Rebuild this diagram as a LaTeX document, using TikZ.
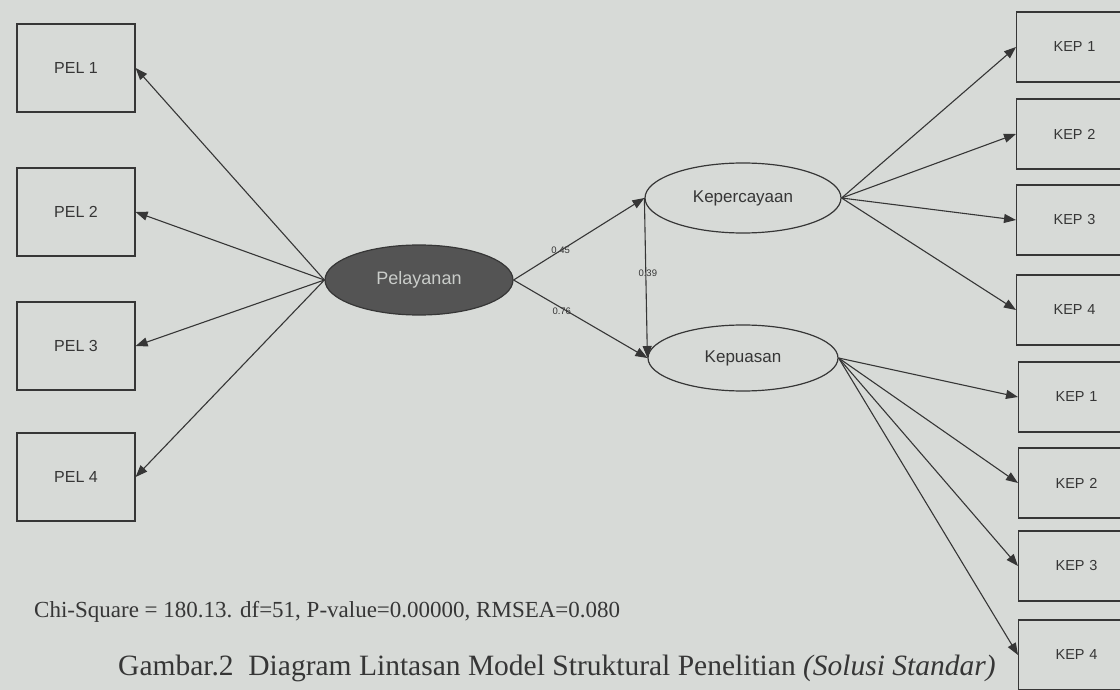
\documentclass[tikz,border=0pt]{standalone}
\usepackage{fontspec}
\setmainfont{Liberation Serif}
\setsansfont{Liberation Sans}
\usetikzlibrary{arrows.meta,shapes.geometric}

\definecolor{paper}{HTML}{D7DAD7}
\definecolor{inkline}{HTML}{363636}
\definecolor{latentfill}{HTML}{545454}

\tikzset{
  obsbox/.style={draw=inkline, line width=1.2pt, minimum width=118pt, minimum height=88pt,
    inner sep=0pt, font=\sffamily\fontsize{16}{18}\selectfont, text=inkline},
  kepbox/.style={draw=inkline, line width=1.2pt, minimum height=70pt,
    inner sep=0pt, font=\sffamily\fontsize{14.5}{16}\selectfont, text=inkline,
    text width=150pt, align=left},
  latent/.style={ellipse, draw=inkline, line width=1.2pt, inner sep=0pt,
    font=\sffamily\fontsize{17}{19}\selectfont, text=inkline},
  coef/.style={font=\sffamily\fontsize{9.5}{10}\selectfont, text=inkline, inner sep=1pt},
  semarrow/.style={draw=inkline, line width=1.1pt, -{Triangle[length=12pt,width=9pt]}}
}

\begin{document}
\begin{tikzpicture}[x=1pt, y=-1pt]
  % page frame
  \fill[paper] (0,0) rectangle (1120,690);
  \useasboundingbox (0,0) rectangle (1120,690);
  \clip (0,0) rectangle (1120,690);

  % exogenous latent
  \node[latent, fill=latentfill, minimum width=188pt, minimum height=70pt, text=paper!85!gray,
    font=\sffamily\fontsize{18}{20}\selectfont] (pelayanan) at (419,280) {Pelayanan};

  % endogenous latents
  \node[latent, minimum width=196pt, minimum height=70pt] (kepercayaan) at (743,198) {Kepercayaan};
  \node[latent, minimum width=190pt, minimum height=66pt] (kepuasan) at (743,358) {Kepuasan};

  % indicators of Pelayanan
  \node[obsbox] (pel1) at (76,68) {PEL 1};
  \node[obsbox] (pel2) at (76,212) {PEL 2};
  \node[obsbox] (pel3) at (76,346) {PEL 3};
  \node[obsbox] (pel4) at (76,477) {PEL 4};

  % indicators of Kepercayaan and Kepuasan
  \foreach \i/\yy in {1/47,2/134,3/220,4/310}
    \node[kepbox, anchor=west] (kpa\i) at (1016,\yy) {\hspace*{37pt}KEP \i};
  \foreach \i/\yy in {1/397,2/483,3/566,4/655}
    \node[kepbox, anchor=west] (kpu\i) at (1018,\yy) {\hspace*{37pt}KEP \i};

  % loadings
  \foreach \i in {1,...,4}
    \draw[semarrow] (pelayanan.west) -- (pel\i.east);
  \foreach \i in {1,...,4}
    \draw[semarrow] (kepercayaan.east) -- (kpa\i.west);
  \foreach \i in {1,...,4}
    \draw[semarrow] (kepuasan.east) -- (kpu\i.west);

  % structural paths
  \draw[semarrow] (pelayanan.east) -- (kepercayaan.west)
    node[coef, pos=0.36] {0.45};
  \draw[semarrow] (pelayanan.east) -- (kepuasan.west)
    node[coef, pos=0.36, yshift=-3pt] {0.76};
  \draw[semarrow] (kepercayaan.west) -- (kepuasan.west)
    node[coef, pos=0.47, xshift=2pt] {0.39};

  % fit statistics and caption
  \node[anchor=west, font=\fontsize{23}{25}\selectfont, text=inkline, inner sep=0pt]
    (fit) at (34,612) {Chi-Square = 180.13. df=51, P-value=0.00000, RMSEA=0.080};
  \node[anchor=west, font=\fontsize{29.5}{31}\selectfont, text=inkline, inner sep=0pt]
    (caption) at (118,668) {Gambar.2\ \ Diagram Lintasan Model Struktural Penelitian \textit{(Solusi Standar)}};
\end{tikzpicture}
\end{document}
